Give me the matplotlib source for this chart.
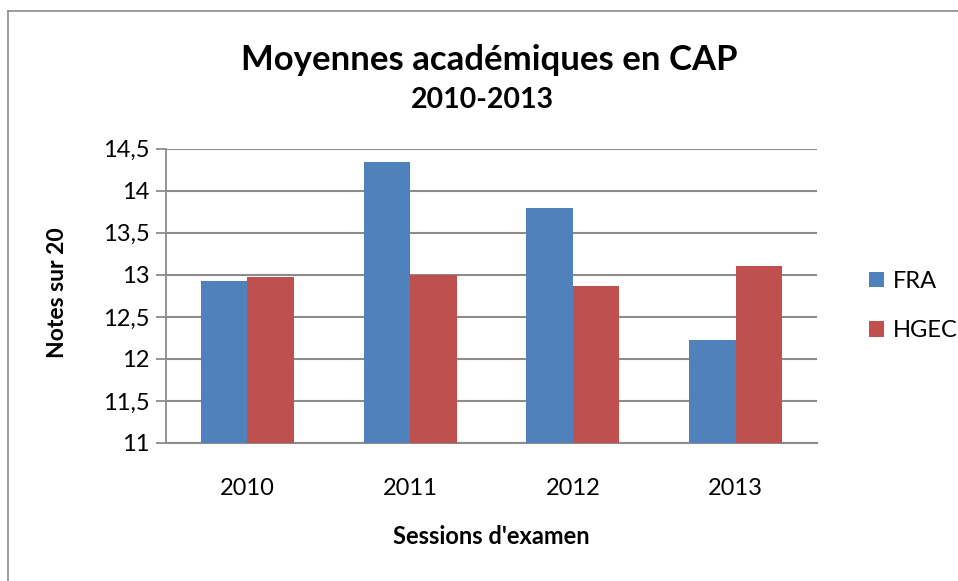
import matplotlib.pyplot as plt
import numpy as np
from matplotlib.lines import Line2D

plt.rcParams['font.family'] = ['Lato', 'DejaVu Sans']

# donnees
sessions = ["2010", "2011", "2012", "2013"]
fra = [12.93, 14.34, 13.79, 12.23]
hgec = [12.97, 13.00, 12.87, 13.11]
yticks = [11, 11.5, 12, 12.5, 13, 13.5, 14, 14.5]
ytick_labels = ["11", "11,5", "12", "12,5", "13", "13,5", "14", "14,5"]

blue = "#4F81BD"
red = "#C0504D"
grid_gray = "#8C8C8C"

W, H = 958, 581
fig = plt.figure(figsize=(W/100, H/100), dpi=100)
ax = fig.add_axes([166/W, 1-443/H, (817-166)/W, (443-148.7)/H])

x = np.arange(len(sessions))
w = 2/7
ax.bar(x - w/2, fra, w, color=blue, label="FRA", zorder=3)
ax.bar(x + w/2, hgec, w, color=red, label="HGEC", zorder=3)

ax.set_xlim(-0.5, 3.5)
ax.set_ylim(11, 14.5)
ax.set_yticks(yticks)
ax.set_yticklabels(ytick_labels)
ax.set_xticks(x)
ax.set_xticklabels(sessions)
ax.yaxis.grid(True, color=grid_gray, linewidth=1.5, zorder=0)

for s in ["top", "right"]:
    ax.spines[s].set_visible(False)
ax.spines["left"].set_color(grid_gray)
ax.spines["bottom"].set_color(grid_gray)
ax.spines["left"].set_linewidth(1.3)
ax.spines["bottom"].set_linewidth(1.5)
ax.tick_params(axis="y", length=7, width=1.3, color=grid_gray, pad=5, labelsize=17)
ax.tick_params(axis="x", length=0, pad=25, labelsize=17)

# titres des axes places a la main
fig.text(58/W, 1-293/H, "Notes sur 20", rotation=90, ha="center", va="center",
         fontsize=16.5, fontweight="bold")
fig.text(491/W, 1-537/H, "Sessions d'examen", ha="center", va="center",
         fontsize=17, fontweight="bold")

fig.text(489/W, 1-60/H, "Moyennes académiques en CAP", ha="center", va="center",
         fontsize=25, fontweight="bold")
fig.text(482/W, 1-100/H, "2010-2013", ha="center", va="center",
         fontsize=20.5, fontweight="bold")

leg = ax.legend(loc="center left", bbox_to_anchor=(1.065, 0.465), frameon=False,
                fontsize=17, handlelength=0.63, handleheight=0.63, handletextpad=0.4,
                labelspacing=1.2, borderaxespad=0)

# cadre exterieur (haut et gauche)
fig.add_artist(Line2D([8/W, 8/W], [0, 1-11/H], color=grid_gray, linewidth=1.2))
fig.add_artist(Line2D([8/W, 1], [1-11/H, 1-11/H], color=grid_gray, linewidth=1.2))

fig.savefig("out.png", dpi=100)
